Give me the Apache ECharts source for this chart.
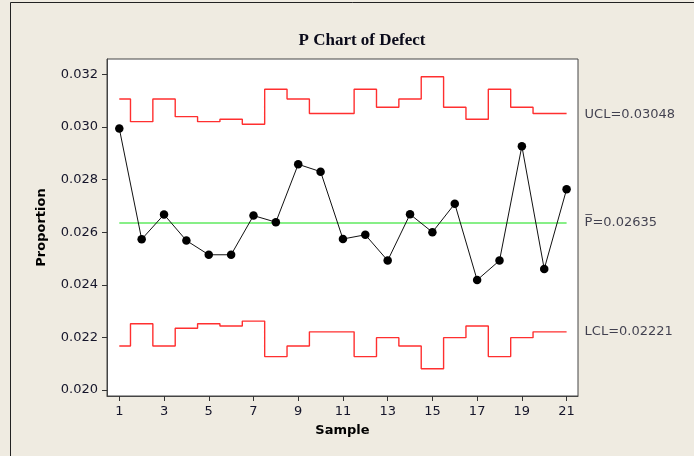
<!DOCTYPE html>
<html>
<head>
<meta charset="utf-8">
<style>
html,body{margin:0;padding:0;background:#EFEBE1;}
#chart{width:694px;height:456px;}
</style>
<script src="https://cdn.jsdelivr.net/npm/echarts@6/dist/echarts.min.js"></script>
</head>
<body>
<div id="chart"></div>
<script>
// ---- data ----
var samples = [1,2,3,4,5,6,7,8,9,10,11,12,13,14,15,16,17,18,19,20,21];
var proportion = [0.02994,0.02573,0.02667,0.02568,0.02514,0.02514,0.02663,0.02638,0.02858,0.02830,0.02574,0.02590,0.02492,0.02668,0.02600,0.02708,0.02418,0.02492,0.02927,0.02460,0.02763];
var ucl = [0.03106,0.03020,0.03106,0.03039,0.03020,0.03029,0.03010,0.03143,0.03106,0.03051,0.03051,0.03143,0.03075,0.03106,0.03191,0.03075,0.03029,0.03143,0.03075,0.03051,0.03051];
var lcl = [0.02167,0.02252,0.02167,0.02235,0.02252,0.02243,0.02262,0.02127,0.02167,0.02221,0.02221,0.02127,0.02199,0.02167,0.02081,0.02199,0.02243,0.02127,0.02199,0.02221,0.02221];
var centerLine = 0.02635;
var limitLabels = [
  {value: 0.03048, text: 'UCL=0.03048'},
  {value: 0.02635, text: 'P\u0305=0.02635'},
  {value: 0.02221, text: 'LCL=0.02221'}
];
var xTicks = [1,3,5,7,9,11,13,15,17,19,21];
var yTicks = [0.020,0.022,0.024,0.026,0.028,0.030,0.032];

function pairs(xs, ys){ return xs.map(function(x,i){ return [x, ys[i]]; }); }

var chart = echarts.init(document.getElementById('chart'), null, {renderer:'canvas'});
var font = 'DejaVu Sans';
var txt = '#15152a';
chart.setOption({
  backgroundColor: '#EFEBE1',
  animation: false,
  title: {
    text: 'P Chart of Defect',
    left: 357, top: 27, textAlign: 'center',
    textStyle: {fontFamily: 'Liberation Serif', fontWeight: 'bold', fontSize: 17, color: '#0a0a1a'}
  },
  graphic: [
    {type:'line', shape:{x1:10.5, y1:2.5, x2:694, y2:2.5}, style:{stroke:'#222', lineWidth:1}},
    {type:'line', shape:{x1:10.5, y1:2.5, x2:10.5, y2:456}, style:{stroke:'#222', lineWidth:1}}
  ],
  grid: {
    left: 107, right: 116, top: 59, bottom: 60,
    show: true, backgroundColor: '#ffffff', borderColor: '#444', borderWidth: 1
  },
  xAxis: {
    type: 'value', min: 0.45, max: 21.51,
    name: 'Sample', nameLocation: 'middle', nameGap: 28,
    nameTextStyle: {fontFamily: font, fontWeight: 'bold', fontSize: 13, color: '#000'},
    axisLine: {show: true, lineStyle: {color: '#444'}},
    axisTick: {show: true, length: 5, customValues: xTicks, lineStyle: {color: '#333'}},
    axisLabel: {customValues: xTicks, margin: 9, fontFamily: font, fontSize: 13, color: txt},
    splitLine: {show: false}
  },
  yAxis: {
    type: 'value', min: 0.019772, max: 0.032582,
    name: 'Proportion', nameLocation: 'middle', nameGap: 59, nameRotate: 90,
    nameTextStyle: {fontFamily: font, fontWeight: 'bold', fontSize: 13, color: '#000'},
    axisLine: {show: true, lineStyle: {color: '#444'}},
    axisTick: {show: true, length: 5, customValues: yTicks, lineStyle: {color: '#333'}},
    axisLabel: {customValues: yTicks, margin: 9, fontFamily: font, fontSize: 13, color: txt,
      formatter: function(v){ return v.toFixed(3); }},
    splitLine: {show: false}
  },
  series: [
    {type: 'line', name: 'UCL', step: 'middle', data: pairs(samples, ucl), symbol: 'none',
      lineStyle: {color: '#FF2F2F', width: 1.4}, z: 2},
    {type: 'line', name: 'LCL', step: 'middle', data: pairs(samples, lcl), symbol: 'none',
      lineStyle: {color: '#FF2F2F', width: 1.4}, z: 2},
    {type: 'line', name: 'Center', data: [[samples[0], centerLine], [samples[samples.length-1], centerLine]], symbol: 'none',
      lineStyle: {color: '#5FEA5F', width: 1.6}, z: 2},
    {type: 'line', name: 'Proportion', data: pairs(samples, proportion),
      symbol: 'circle', symbolSize: 8.5, showAllSymbol: true,
      itemStyle: {color: '#000'}, lineStyle: {color: '#111', width: 1}, z: 3},
    {type: 'scatter', name: 'labels', symbolSize: 0, silent: true,
      data: limitLabels.map(function(d){ return {value: [samples[samples.length-1], d.value], label: {formatter: d.text}}; }),
      label: {show: true, position: 'right', distance: 18, fontFamily: font, fontSize: 13, color: txt},
      clip: false, z: 4}
  ]
});
</script>
</body>
</html>
